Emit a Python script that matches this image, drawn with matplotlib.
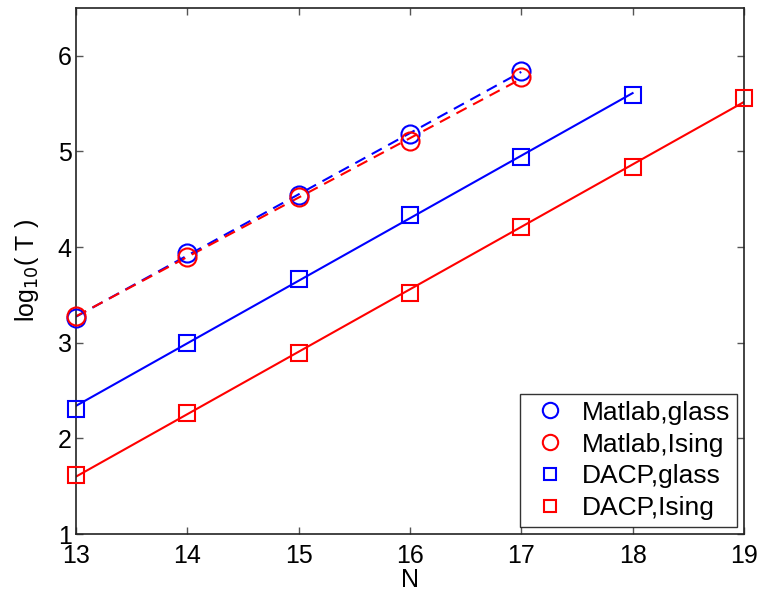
"""
log10(T) versus N for Matlab and DACP
"""

import numpy as np
import matplotlib.pyplot as plt

plt.rcParams['font.family'] = ['Liberation Sans', 'DejaVu Sans']

"""
Data:
"""
N_matlab = [13, 14, 15, 16, 17]
matlab_glass = [3.26, 3.94, 4.54, 5.18, 5.84]
matlab_ising = [3.28, 3.90, 4.52, 5.11, 5.78]

N_dacp_glass = [13, 14, 15, 16, 17, 18]
dacp_glass = [2.31, 3.00, 3.67, 4.34, 4.94, 5.59]

N_dacp_ising = [13, 14, 15, 16, 17, 18, 19]
dacp_ising = [1.62, 2.27, 2.89, 3.52, 4.21, 4.84, 5.56]

"""
Plot
"""
fig = plt.figure(figsize=(7.59, 5.94), dpi=100)
ax = fig.add_axes([0.1001, 0.101, 0.880, 0.8855])

series = [
    (N_matlab, matlab_glass, 'b', 'o', '--', 'Matlab,glass'),
    (N_matlab, matlab_ising, 'r', 'o', '--', 'Matlab,Ising'),
    (N_dacp_glass, dacp_glass, 'b', 's', '-', 'DACP,glass'),
    (N_dacp_ising, dacp_ising, 'r', 's', '-', 'DACP,Ising'),
]

for n, y, c, m, ls, lab in series:
    ax.plot(n, y, linestyle='none', marker=m, markersize=13 if m == 'o' else 11,
            markerfacecolor='none', markeredgecolor=c, markeredgewidth=1.5,
            label=lab, clip_on=False, zorder=3)

# linear fits
for n, y, c, m, ls, lab in series:
    p = np.polyfit(n, y, 1)
    xx = np.array([min(n), max(n)])
    if ls == '--':
        ax.plot(xx, np.polyval(p, xx), color=c, linewidth=1.5, dashes=(5.5, 3.5))
    else:
        ax.plot(xx, np.polyval(p, xx), color=c, linewidth=1.5)

ax.set_xlim(13, 19)
ax.set_ylim(1, 6.5)
ax.set_xticks(range(13, 20))
ax.set_yticks(range(1, 7))
ax.tick_params(direction='in', top=True, right=True, labelsize=18, length=5,
               width=1.0, color='#555555')
ax.tick_params(axis='x', pad=7)
ax.tick_params(axis='y', pad=3)
for s in ax.spines.values():
    s.set_linewidth(1.2)
    s.set_color('#222222')

ax.set_xlabel("N", fontsize=18, labelpad=0)
ax.set_ylabel(r"log$_{10}$( T )", fontsize=18, labelpad=12)

leg = ax.legend(loc='lower right', bbox_to_anchor=(0.9895, 0.0133), fontsize=19,
                frameon=True, fancybox=False, edgecolor='k', handlelength=1.8,
                handletextpad=0.3, borderpad=0.25, labelspacing=0.3,
                borderaxespad=0.0, markerscale=0.85)
leg.get_frame().set_linewidth(1.0)

plt.savefig("out.png", dpi=100)
